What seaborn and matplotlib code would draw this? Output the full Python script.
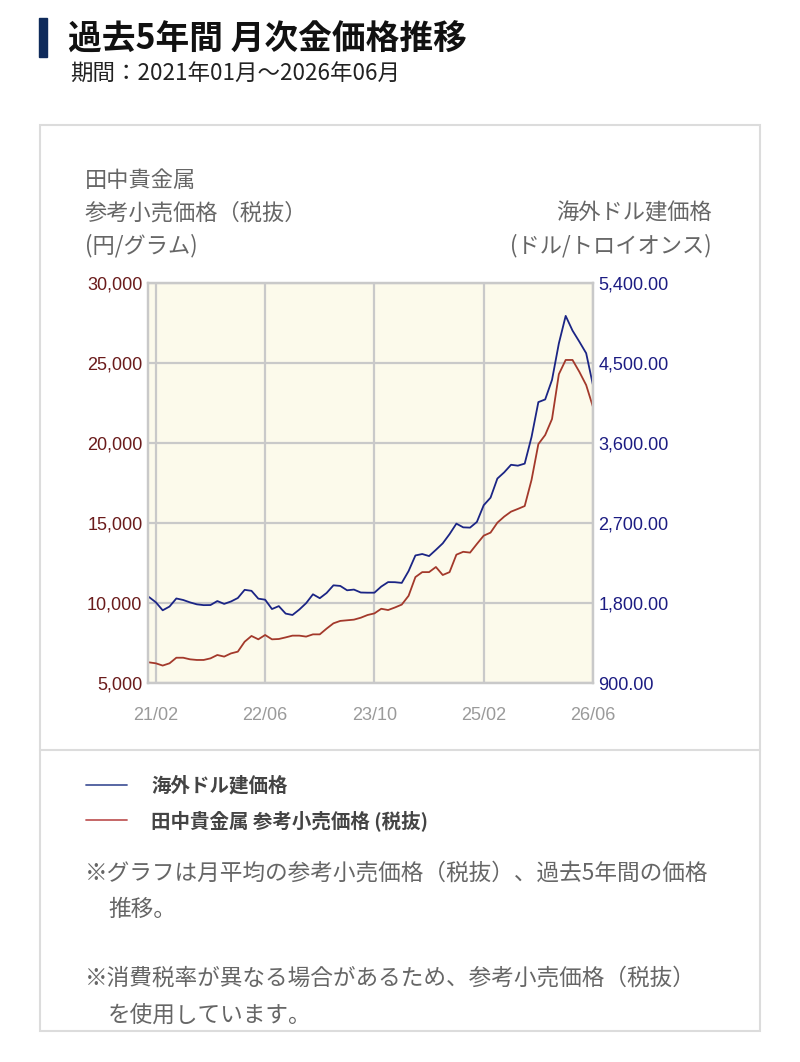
import matplotlib.pyplot as plt
import matplotlib.patches as patches
from matplotlib.lines import Line2D
from matplotlib.ticker import FuncFormatter
import seaborn as sns
import pandas as pd


# Data
months = pd.period_range('2021-01', '2026-06', freq='M')
usd_price = [
    1867, 1808, 1718, 1760, 1851, 1834, 1807, 1785, 1776, 1777, 1822, 1790,
    1817, 1856, 1948, 1937, 1849, 1837, 1732, 1765, 1681, 1665, 1726, 1798,
    1898, 1854, 1913, 1999, 1992, 1943, 1951, 1918, 1916, 1916, 1985, 2035,
    2034, 2026, 2159, 2335, 2351, 2328, 2398, 2471, 2575, 2693, 2651, 2648,
    2712, 2900, 2985, 3200, 3270, 3355, 3345, 3368, 3667, 4060, 4090, 4310,
    4720, 5030, 4865, 4740, 4610, 4250,
]
jpy_price = [
    6290, 6230, 6090, 6230, 6580, 6580, 6480, 6440, 6440, 6540, 6750, 6650,
    6850, 6960, 7580, 7940, 7730, 8000, 7730, 7750, 7850, 7960, 7960, 7900,
    8040, 8040, 8400, 8730, 8880, 8920, 8960, 9080, 9250, 9350, 9640, 9560,
    9720, 9900, 10450, 11620, 11930, 11930, 12250, 11750, 11930, 13020, 13200, 13150,
    13690, 14210, 14400, 15020, 15400, 15710, 15880, 16060, 17690, 19930, 20500, 21500,
    24300, 25190, 25190, 24450, 23620, 22250,
]
tick_labels = ['21/02', '22/06', '23/10', '25/02', '26/06']
jpy_ticks = [5000, 10000, 15000, 20000, 25000, 30000]
usd_ticks = [900, 1800, 2700, 3600, 4500, 5400]

# Config
W, H, DPI = 800, 1062, 100
NAVY_BAR = '#0f2b5b'
BLUE = '#1b2585'
RED = '#a3392b'
JPY_TICK = '#6a1b1b'
USD_TICK = '#1c1c82'
PLOT_BG = '#fcfaeb'
GRID = '#c9c9c9'
BOX = '#dcdcdc'
GRAY_TEXT = '#666666'
JP = ['Noto Sans CJK JP', 'DejaVu Sans']
NUM = ['Liberation Sans', 'DejaVu Sans']


def fx(x):
    return x / W


def fy(y):
    return 1 - y / H


df = pd.DataFrame({
    'month': range(len(months)),
    'label': months.strftime('%y/%m'),
    'usd': usd_price,
    'jpy': jpy_price,
})
tick_pos = [df.index[df['label'] == t][0] for t in tick_labels]

sns.set_theme(style='white')
plt.rcParams['font.family'] = JP

fig = plt.figure(figsize=(W / DPI, H / DPI), dpi=DPI)
fig.patch.set_facecolor('white')

# Header
fig.patches.append(patches.Rectangle((fx(39), fy(57)), fx(8), 39 / H, transform=fig.transFigure,
                                     color=NAVY_BAR, zorder=1))
fig.text(fx(68), fy(39), '過去5年間 月次金価格推移', fontsize=24.3, fontweight='bold',
         color='#111111', va='center', ha='left')
fig.text(fx(70), fy(74), '期間：2021年01月～2026年06月', fontsize=16.2,
         color='#222222', va='center', ha='left')

# Card
fig.patches.append(patches.Rectangle((fx(40), fy(1031)), fx(720), (1031 - 125) / H,
                                     transform=fig.transFigure, fill=False, edgecolor=BOX, lw=1.5))
fig.lines.append(Line2D([fx(40), fx(760)], [fy(750), fy(750)], transform=fig.transFigure,
                        color=BOX, lw=1.5))

# Axis titles
fig.text(fx(85), fy(180), '田中貴金属', fontsize=16, color=GRAY_TEXT, va='center')
fig.text(fx(85), fy(213), '参考小売価格（税抜）', fontsize=16, color=GRAY_TEXT, va='center')
fig.text(fx(85), fy(246), '(円/グラム)', fontsize=16, color=GRAY_TEXT, va='center')
fig.text(fx(712), fy(213), '海外ドル建価格', fontsize=16, color=GRAY_TEXT, va='center', ha='right')
fig.text(fx(712), fy(246), '(ドル/トロイオンス)', fontsize=16, color=GRAY_TEXT, va='center', ha='right')

# Plot
ax = fig.add_axes([fx(148), fy(683), fx(593 - 148), (683 - 283) / H])
ax.set_facecolor(PLOT_BG)
sns.lineplot(data=df, x='month', y='jpy', ax=ax, color=RED, lw=1.3, label='田中貴金属 参考小売価格 (税抜)')
ax2 = ax.twinx()
sns.lineplot(data=df, x='month', y='usd', ax=ax2, color=BLUE, lw=1.3, label='海外ドル建価格')

ax.set_xlim(-0.15, len(months) - 1)
ax.set_ylim(jpy_ticks[0], jpy_ticks[-1])
ax2.set_ylim(usd_ticks[0], usd_ticks[-1])
ax.set_xticks(tick_pos)
ax.set_xticklabels(tick_labels, family=NUM, fontsize=13, color='#9a9a9a')
ax.set_yticks(jpy_ticks)
ax2.set_yticks(usd_ticks)
ax.yaxis.set_major_formatter(FuncFormatter(lambda v, p: f'{v:,.0f}'))
ax2.yaxis.set_major_formatter(FuncFormatter(lambda v, p: f'{v:,.2f}'))
for lab in ax.get_yticklabels():
    lab.set_family(NUM)
for lab in ax2.get_yticklabels():
    lab.set_family(NUM)
ax.tick_params(axis='y', length=0, pad=4, labelsize=13, labelcolor=JPY_TICK)
ax2.tick_params(axis='y', length=0, pad=4, labelsize=13, labelcolor=USD_TICK)
ax.tick_params(axis='x', length=0, pad=17)
ax.set_xlabel('')
ax.set_ylabel('')
ax2.set_ylabel('')
ax.grid(True, color=GRID, lw=1.6)
ax.set_axisbelow(True)
for a in (ax, ax2):
    for s in a.spines.values():
        s.set_color(GRID)
        s.set_linewidth(1.6)

# Legend
h_red, l_red = ax.get_legend_handles_labels()
h_blue, l_blue = ax2.get_legend_handles_labels()
ax.get_legend().remove()
ax2.get_legend().remove()
leg_blue = Line2D([], [], color='#4a5a9c', lw=1.3)
leg_red = Line2D([], [], color='#c05a5a', lw=1.3)
fig.legend([leg_blue, leg_red], [l_blue[0], l_red[0]], loc='upper left',
           bbox_to_anchor=(fx(86), fy(776)), frameon=False, borderpad=0, borderaxespad=0,
           handlelength=2.1, handletextpad=1.25, labelspacing=0.75,
           prop={'family': JP, 'size': 14, 'weight': 'bold'}, labelcolor='#444444')

# Notes
fig.text(fx(85), fy(873), '※グラフは月平均の参考小売価格（税抜）、過去5年間の価格', fontsize=16.3,
         color=GRAY_TEXT, va='center')
fig.text(fx(108), fy(909), '推移。', fontsize=16.3, color=GRAY_TEXT, va='center')
fig.text(fx(85), fy(978), '※消費税率が異なる場合があるため、参考小売価格（税抜）', fontsize=16.3,
         color=GRAY_TEXT, va='center')
fig.text(fx(108), fy(1015), 'を使用しています。', fontsize=16.3, color=GRAY_TEXT, va='center')

plt.savefig('out.png', dpi=DPI)
